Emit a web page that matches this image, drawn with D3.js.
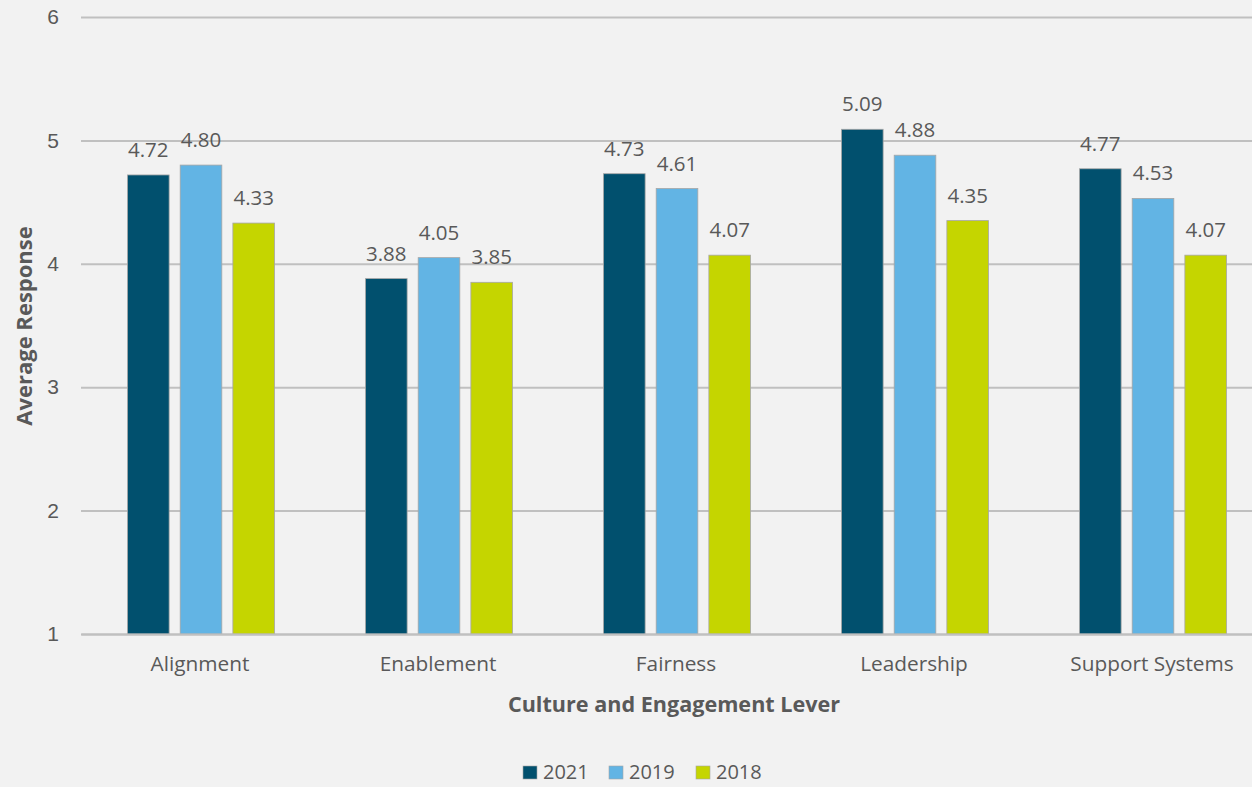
<!DOCTYPE html>
<html>
<head>
<meta charset="utf-8">
<script src="https://cdn.jsdelivr.net/npm/d3@7"></script>
<style>
  html, body { margin: 0; padding: 0; background: #f2f2f2; }
  svg { display: block; font-family: "Open Sans", "Liberation Sans", sans-serif; }
</style>
</head>
<body>
<svg id="chart" width="1252" height="787"></svg>
<script>
// Average response per culture and engagement lever, by survey year
const categories = ["Alignment", "Enablement", "Fairness", "Leadership", "Support Systems"];
const years = ["2021", "2019", "2018"];
const values2021 = [4.72, 3.88, 4.73, 5.09, 4.77];
const values2019 = [4.80, 4.05, 4.61, 4.88, 4.53];
const values2018 = [4.33, 3.85, 4.07, 4.35, 4.07];
const yTicks = [1, 2, 3, 4, 5, 6];
const colors = ["#01506e", "#62b4e4", "#c5d500"];

const seriesValues = [values2021, values2019, values2018];

const svg = d3.select("#chart");
const W = 1252, H = 787;
const textColor = "#595959";
svg.append("rect").attr("width", W).attr("height", H).attr("fill", "#f2f2f2");

const plotLeft = 81, plotRight = 1271, plotTop = 17, plotBottom = 634;

const x = d3.scaleBand().domain(categories).range([plotLeft, plotRight]).paddingInner(0).paddingOuter(0);
const xs = d3.scaleBand().domain(years).range([0, 147]).paddingInner(0.21);
const groupOffset = (x.bandwidth() - 147) / 2 + 1;
const y = d3.scaleLinear().domain([1, 6]).range([plotBottom, plotTop]);

// Horizontal gridlines with value ticks
const yAxis = d3.axisLeft(y).tickValues(yTicks).tickSize(-(plotRight - plotLeft)).tickFormat(d3.format("d"));
const gy = svg.append("g").attr("transform", `translate(${plotLeft},0)`).call(yAxis);
gy.select(".domain").remove();
gy.selectAll(".tick line").attr("stroke", "#c0c0c0").attr("stroke-width", 2);
gy.selectAll(".tick text").attr("x", -22).attr("fill", textColor).attr("font-size", 21);

// Bars
const groups = svg.append("g").selectAll("g")
  .data(categories)
  .join("g")
  .attr("transform", d => `translate(${x(d) + groupOffset},0)`);

const rowsFor = (c, i) => years.map((yr, s) => ({ yr, s, v: seriesValues[s][i] }));

groups.selectAll("rect")
  .data(rowsFor)
  .join("rect")
  .attr("x", d => xs(d.yr))
  .attr("width", xs.bandwidth())
  .attr("y", d => y(d.v))
  .attr("height", d => y(1) - y(d.v))
  .attr("fill", d => colors[d.s])
  .attr("stroke", "#a6a6a6")
  .attr("stroke-width", 0.8);

// Value labels above bars
groups.selectAll("text")
  .data(rowsFor)
  .join("text")
  .attr("x", d => xs(d.yr) + xs.bandwidth() / 2)
  .attr("y", d => y(d.v) - 18)
  .attr("text-anchor", "middle")
  .attr("fill", textColor)
  .attr("font-size", 20.5)
  .text(d => d.v.toFixed(2));

// Category axis
const xAxis = d3.axisBottom(x).tickSize(0).tickPadding(22);
const gx = svg.append("g").attr("transform", `translate(0,${plotBottom})`).call(xAxis);
gx.select(".domain").attr("stroke", "#c0c0c0").attr("stroke-width", 2);
gx.selectAll(".tick text").attr("fill", textColor).attr("font-size", 20.8).attr("font-family", "\"Open Sans\", sans-serif");

// Axis titles
svg.append("text")
  .attr("x", 674).attr("y", 712)
  .attr("text-anchor", "middle")
  .attr("fill", textColor).attr("font-size", 21.6).attr("font-weight", "bold")
  .text("Culture and Engagement Lever");

svg.append("text")
  .attr("transform", "translate(32,326) rotate(-90)")
  .attr("text-anchor", "middle")
  .attr("fill", textColor).attr("font-size", 22).attr("font-weight", "bold")
  .text("Average Response");

// Legend
const legendX = [523, 609, 696];
const legend = svg.append("g").selectAll("g")
  .data(years)
  .join("g")
  .attr("transform", (d, i) => `translate(${legendX[i]},766)`);
legend.append("rect").attr("width", 14).attr("height", 13)
  .attr("fill", (d, i) => colors[i]).attr("stroke", "#a6a6a6").attr("stroke-width", 0.6);
legend.append("text").attr("x", 20).attr("y", 13)
  .attr("fill", textColor).attr("font-size", 20)
  .text(d => d);
</script>
</body>
</html>
